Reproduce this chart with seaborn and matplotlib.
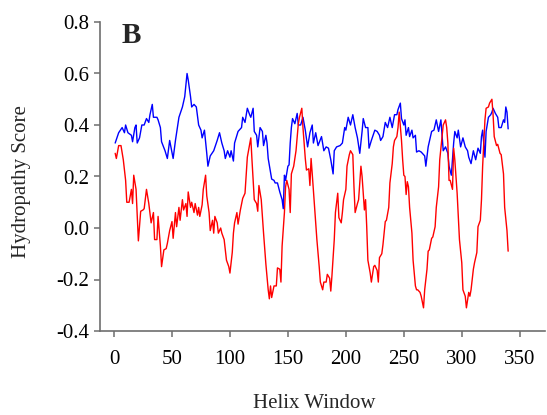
import matplotlib
matplotlib.use("Agg")
import matplotlib.pyplot as plt
import seaborn as sns
import numpy as np

blue_x = [1, 4, 7, 9, 10, 12, 15, 16, 18, 19, 20, 22, 24, 26, 28, 30, 31, 33, 34, 37, 38, 40, 41, 44, 46, 48,
          51, 53, 56, 59, 61, 63, 64, 66, 67, 69, 71, 73, 75, 76, 78, 80, 81, 83, 86, 89, 91, 93, 95, 96, 98,
          100, 101, 103, 104, 107, 110, 111, 113, 115, 117, 118, 120, 121, 123, 124, 126, 128, 129, 131, 132,
          133, 136, 138, 139, 141, 143, 145, 146, 147, 148, 150, 151, 152, 153, 154, 156, 158, 159, 161, 163,
          165, 167, 169, 171, 172, 174, 176, 179, 181, 183, 185, 187, 189, 190, 192, 195, 197, 199, 200, 202,
          204, 206, 208, 210, 212, 214, 215, 217, 219, 220, 222, 225, 227, 229, 230, 232, 234, 236, 238, 240,
          242, 244, 245, 247, 248, 250, 251, 252, 254, 255, 257, 258, 260, 261, 263, 265, 268, 269, 271, 272,
          274, 276, 278, 280, 282, 284, 286, 288, 289, 291, 293, 294, 296, 297, 299, 301, 303, 305, 306, 308,
          310, 312, 314, 316, 317, 318, 320, 321, 323, 325, 326, 327, 329, 331, 332, 334, 336, 337, 338, 339, 340]
blue_y = [0.33, 0.37, 0.39, 0.37, 0.40, 0.37, 0.36, 0.335, 0.39, 0.40, 0.33, 0.35, 0.40, 0.40, 0.425, 0.41, 0.44,
          0.48, 0.43, 0.43, 0.42, 0.39, 0.335, 0.30, 0.27, 0.34,
          0.27, 0.34, 0.43, 0.47, 0.51, 0.60, 0.575, 0.51, 0.47, 0.48, 0.47, 0.40, 0.38, 0.35, 0.38, 0.29, 0.24,
          0.28, 0.30, 0.34, 0.37, 0.33, 0.30, 0.27, 0.30,
          0.275, 0.30, 0.26, 0.33, 0.375, 0.39, 0.43, 0.41, 0.465, 0.44, 0.43, 0.465, 0.375, 0.36, 0.315, 0.39,
          0.375, 0.32, 0.36, 0.33,
          0.27, 0.19, 0.185, 0.175, 0.175, 0.14, 0.11, 0.075, 0.205, 0.185, 0.24, 0.245, 0.33, 0.39, 0.425,
          0.405, 0.445, 0.40, 0.40, 0.43,
          0.38, 0.315, 0.37, 0.40, 0.33, 0.37, 0.32, 0.355, 0.30, 0.315, 0.31, 0.265, 0.21, 0.30, 0.315, 0.32,
          0.33, 0.39, 0.38, 0.43,
          0.40, 0.44, 0.39, 0.35, 0.29, 0.375, 0.425, 0.39, 0.39, 0.31, 0.34, 0.38, 0.375, 0.36, 0.34, 0.355,
          0.41, 0.39, 0.43, 0.39,
          0.44, 0.44, 0.46, 0.485, 0.425, 0.40, 0.42, 0.36, 0.39, 0.355, 0.38, 0.35, 0.36, 0.295, 0.30, 0.295,
          0.28, 0.24, 0.315, 0.335,
          0.375, 0.38, 0.42, 0.375, 0.42, 0.30, 0.315, 0.29, 0.24, 0.205, 0.33, 0.375, 0.35, 0.38, 0.315, 0.35,
          0.315, 0.30, 0.275, 0.25,
          0.30, 0.265, 0.31, 0.29, 0.355, 0.38, 0.275, 0.375, 0.43, 0.44, 0.45, 0.465, 0.445, 0.43, 0.39, 0.39,
          0.42, 0.41, 0.47, 0.45, 0.385]

red_x = [1, 2, 4, 6, 8, 10, 11, 13, 15, 16, 17, 19, 21, 23, 25, 26, 28, 30, 32, 34, 35, 37, 38, 40, 41, 43,
         45, 46, 48, 50, 51, 53, 54, 56, 57, 59, 60, 62, 63, 64, 66, 67, 69, 70, 72, 73, 74, 76, 77, 79, 80,
         82, 83, 85, 86, 87, 89, 90, 92, 93, 95, 96, 97, 99, 100, 102, 103, 104, 106, 107, 109, 111, 113, 115,
         116, 118, 119, 121, 123, 124, 125, 127, 129, 131, 133, 134, 135, 136, 138, 140, 141, 143, 144, 145,
         147, 148, 149, 151, 152, 153, 155, 157, 159, 160, 162, 163, 165, 166, 168, 169, 170, 171, 173, 175,
         177, 178, 180, 181, 183, 184, 186, 187, 188, 190, 191, 193, 194, 196, 197, 198, 200, 201, 203, 204,
         206, 207, 208, 210, 211, 213, 214, 216, 217, 218, 219, 221, 222, 224, 225, 227, 228, 229, 231, 232,
         234, 235, 237, 238, 240, 241, 242, 244, 245, 246, 248, 249, 250, 251, 252, 253, 254, 255, 257, 258,
         260, 261, 262, 264, 265, 267, 268, 270, 271, 272, 274, 275, 277, 278, 280, 281, 283, 284, 286, 287,
         288, 289, 290, 292, 293, 294, 296, 297, 298, 300, 301, 303, 304, 306, 307, 308, 310, 311, 313, 314,
         316, 317, 318, 320, 321, 323, 324, 326, 327, 328, 330, 331, 333, 334, 336, 337, 339, 340]
red_y = [0.29, 0.27, 0.32, 0.32, 0.265, 0.185, 0.10, 0.10, 0.15, 0.095, 0.205, 0.15, -0.05, 0.065, 0.07, 0.075,
         0.15, 0.095, 0.02, 0.06, -0.045, -0.045, 0.045, -0.07, -0.15, -0.085,
         -0.08, -0.06, -0.01, 0.025, -0.04, 0.06, 0.005, 0.08, 0.03, 0.11, 0.07, 0.095, 0.045, 0.14, 0.08, 0.10,
         0.06, 0.095, 0.05, 0.08, 0.045, 0.09, 0.15, 0.205, 0.125,
         0.06, -0.01, 0.03, -0.02, 0.045, 0.02, -0.02, 0.0, -0.02, -0.045, -0.085, -0.125, -0.15, -0.175, -0.095,
         -0.02, 0.02, 0.06, 0.015, 0.07, 0.115, 0.135, 0.275,
         0.30, 0.35, 0.265, 0.11, 0.095, 0.065, 0.165, 0.11, -0.02, -0.14, -0.24, -0.275, -0.225, -0.27, -0.225,
         -0.225, -0.155, -0.16, -0.21, -0.07,
         0.06, 0.16, 0.185, 0.15, 0.06, 0.21, 0.24, 0.30, 0.405, 0.43, 0.465, 0.39, 0.27, 0.225, 0.23, 0.165,
         0.27, 0.21, 0.08, -0.045,
         -0.15, -0.21, -0.24, -0.21, -0.21, -0.18, -0.195, -0.245, -0.185, -0.045, 0.06, 0.135, 0.04, 0.02, 0.06,
         0.11, 0.15, 0.24, 0.285, 0.30,
         0.285, 0.16, 0.06, 0.095, 0.11, 0.24, 0.20, 0.07, 0.11, 0.005, -0.125, -0.175, -0.21, -0.15, -0.145,
         -0.165, -0.21, -0.115, -0.10, -0.065,
         0.025, 0.03, 0.08, 0.175, 0.25, 0.315, 0.34, 0.355, 0.39, 0.45, 0.34, 0.265, 0.205, 0.20, 0.13, 0.18,
         0.16, 0.08, -0.02, -0.125,
         -0.225, -0.24, -0.24, -0.25, -0.265, -0.31, -0.24, -0.16, -0.09, -0.085, -0.04, -0.035, 0.005, 0.08,
         0.16, 0.265, 0.355, 0.40, 0.42, 0.39,
         0.33, 0.185, 0.185, 0.15, 0.31, 0.265, 0.135, 0.045, -0.045, -0.135, -0.24, -0.265, -0.31, -0.25,
         -0.265, -0.24, -0.16, -0.135, -0.095, 0.005,
         0.03, 0.11, 0.24, 0.42, 0.465, 0.47, 0.485, 0.50, 0.44, 0.355, 0.32, 0.325, 0.29, 0.285, 0.21, 0.08,
         -0.01, -0.09]

x_ticks = [0, 50, 100, 150, 200, 250, 300, 350]
y_ticks = [-0.4, -0.2, 0.0, 0.2, 0.4, 0.6, 0.8]
y_tick_labels = ["-0.4", "-0.2", "0.0", "0.2", "0.4", "0.6", "0.8"]

sns.set_theme(style="ticks")
plt.rcParams["font.family"] = ["Liberation Serif", "DejaVu Serif"]

fig = plt.figure(figsize=(5.47, 4.15), dpi=100)
ax = fig.add_axes([100 / 547, 1 - 331 / 415, (545 - 100) / 547, (331 - 22) / 415])

sns.lineplot(x=blue_x, y=blue_y, color="#0000FF", linewidth=1.0, sort=False, estimator=None, ax=ax)
sns.lineplot(x=red_x, y=red_y, color="#FF0000", linewidth=1.0, sort=False, estimator=None, ax=ax)

ax.set_xlim(-12.1, 371.8)
ax.set_ylim(-0.4, 0.8)
ax.set_xticks(x_ticks)
ax.set_xticklabels([str(t) for t in x_ticks], fontsize=15)
ax.set_yticks(y_ticks)
ax.set_yticklabels(y_tick_labels, fontsize=15)
for s in ["top", "right"]:
    ax.spines[s].set_visible(False)
for s in ["left", "bottom"]:
    ax.spines[s].set_color("#6e6e6e")
    ax.spines[s].set_linewidth(1.2)
ax.tick_params(axis="both", direction="out", length=4, width=1.1, color="#6e6e6e", colors="black")
ax.tick_params(axis="y", pad=4)
ax.tick_params(axis="x", pad=10)

ax.set_xlabel("")
ax.set_ylabel("")
fig.text(314 / 547, 1 - 403 / 415, "Helix Window", fontsize=15, ha="center", va="center")
fig.text(22 / 547, 1 - 182 / 415, "Hydropathy Score", fontsize=15, ha="center", va="center", rotation=90)
fig.text(122 / 547, 1 - 22 / 415, "B", fontsize=21, fontweight="bold", va="top", ha="left")

fig.savefig("out.png", dpi=100)
